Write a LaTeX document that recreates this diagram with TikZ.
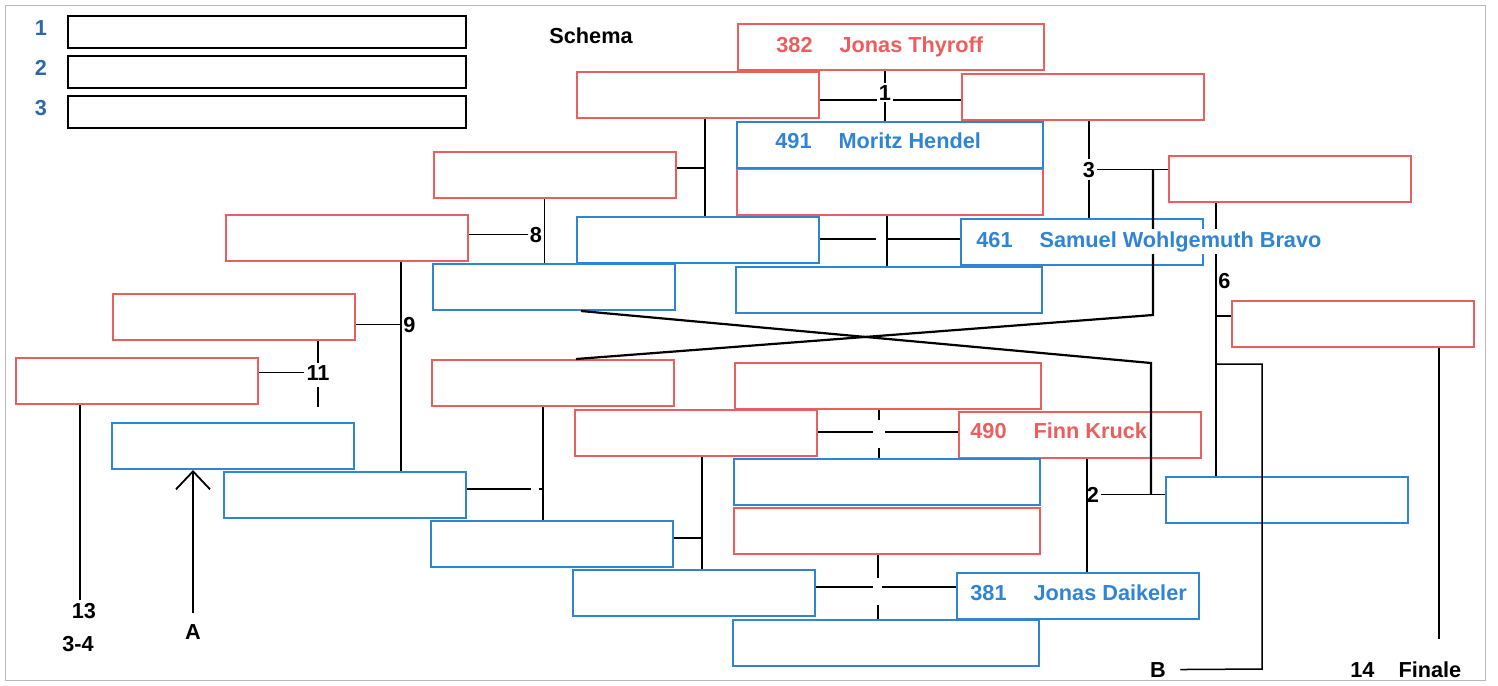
\documentclass[tikz,border=0pt]{standalone}
\usepackage{fontspec}
\setmainfont{Liberation Sans}
\usetikzlibrary{arrows.meta}
\definecolor{boxred}{RGB}{234,94,94}
\definecolor{boxblue}{RGB}{48,132,212}
\definecolor{numblue}{RGB}{46,104,170}
\tikzset{
    slot/.style={draw=#1, line width=1pt, minimum width=121pt, minimum height=23pt, inner sep=0pt},
    wide/.style={minimum width=153pt},
    player/.style={anchor=base west, fill=white, inner xsep=0.5pt, inner ysep=1pt},
    num/.style={anchor=base, inner sep=1pt},
    link/.style={line width=0.75pt},
    swap/.style={line width=1.1pt},
}

\begin{document}
\begin{tikzpicture}[x=0.5pt, y=-0.5pt, font=\fontsize{10.85}{13}\selectfont\bfseries]
    \useasboundingbox (0,0) rectangle (1498,685);
    \draw[gray!55, line width=0.5pt] (5,5) rectangle (1485,680);
    % ranking
    \foreach \i in {1,2,3} {
        \node[slot=black, minimum width=199pt, minimum height=16pt] (L\i) at (267,{40*\i-8}) {};
        \node[num, text=numblue] (n\i) at (41,{40*\i-5}) {\i};
    }
    \node[num, anchor=base west, inner sep=0pt] (title) at (549,43) {Schema};
    % red
    \node[slot=boxred, wide] (R1) at (891,47) {};
    \node[slot=boxred] (R2) at (698,95) {};
    \node[slot=boxred] (R3) at (1083,97) {};
    \node[slot=boxred, wide] (R4) at (890,192) {};
    \node[slot=boxred] (R5) at (555,175) {};
    \node[slot=boxred] (R6) at (347,238) {};
    \node[slot=boxred] (R7) at (1290,179) {};
    \node[slot=boxred] (R8) at (553,383) {};
    \node[slot=boxred] (R9) at (1353,324) {};
    \node[slot=boxred] (R10) at (234,317) {};
    \node[slot=boxred] (R11) at (137,381) {};
    \node[slot=boxred, wide] (R12) at (888,386) {};
    \node[slot=boxred] (R13) at (696,433) {};
    \node[slot=boxred] (R14) at (1080,435) {};
    \node[slot=boxred, wide] (R15) at (887,531) {};
    % blue
    \node[slot=boxblue, wide] (B1) at (890,145) {};
    \node[slot=boxblue] (B2) at (698,240) {};
    \node[slot=boxblue] (B3) at (1082,242) {};
    \node[slot=boxblue, wide] (B4) at (889,290) {};
    \node[slot=boxblue] (B5) at (554,287) {};
    \node[slot=boxblue] (B6) at (1287,500) {};
    \node[slot=boxblue] (B7) at (233,446) {};
    \node[slot=boxblue] (B8) at (345,495) {};
    \node[slot=boxblue] (B9) at (552,544) {};
    \node[slot=boxblue, wide] (B10) at (887,482) {};
    \node[slot=boxblue] (B11) at (694,593) {};
    \node[slot=boxblue] (B12) at (1078,596) {};
    \node[slot=boxblue, wide] (B13) at (886,643) {};
    % 1
    \node[num] (m1) at (885,100) {1};
    \draw[link] (R2.east |- m1.base) -- (m1.base west);
    \draw[link] (m1.base east) -- (R3.west |- m1.base);
    \draw[link] (R1.south -| m1) -- (m1.north);
    \draw[link] (m1.south) -- (B1.north -| m1);
    % B2 - B3
    \coordinate (c2) at (887,239);
    \draw[link] (B2.east |- c2) -- ([xshift=-5.5pt]c2);
    \draw[link] (c2) -- (B3.west |- c2);
    \draw[link] (R4.south -| c2) -- (B4.north -| c2);
    % 8
    \node[num] (m8) at (536,242) {8};
    \draw[link] (R6.east |- m8.west) -- (m8.west);
    \draw[link] (R5.south -| m8.east) -- (B5.north -| m8.east);
    \coordinate (v5) at ([xshift=3.5pt]R2.south);
    \coordinate (h5) at ([yshift=3.5pt]R5.east);
    \draw[link] (v5) -- (v5 |- B2.north);
    \draw[link] (h5) -- (h5 -| v5);
    % 3
    \node[num] (m3) at (1089,177) {3};
    \draw[link] (R3.south -| m3) -- (m3.north);
    \draw[link] (m3.south) -- (B3.north -| m3);
    \draw[link] (m3.east) -- (R7.west |- m3.east);
    % 2
    \node[num] (m2) at (1093,502) {2};
    \coordinate (v2) at ([xshift=3.5pt]R14.south);
    \draw[link] (v2) -- (v2 |- B12.north);
    \draw[link] (m2.east) -- (B6.west |- m2.east);
    % crossing
    \coordinate (j3) at (m3.east -| 1153,0);
    \coordinate (j2) at (m2.east -| 1151,0);
    \draw[swap] ([xshift=11.5pt]R8.north) -- (1153,315) -- (j3);
    \draw[swap] ([xshift=13.5pt]B5.south) -- (1151,363) -- (j2);
    % 6
    \coordinate (v6) at ([xshift=-37pt]R7.south);
    \draw[link] (v6) -- (v6 |- B6.north);
    \node[num, anchor=base west] (m6) at (v6 |- 0,288) {6};
    \draw[link] (v6 |- 0,316) -- (R9.west |- 0,316);
    % B
    \node[num] (mB) at (1158,677) {B};
    \draw[link] (v6 |- 0,364) -| (1262,669) -- ([xshift=6pt]mB.east);
    % 14
    \node[num, anchor=base west] (mF) at (1348,677) {14\hspace{12pt}Finale};
    \draw[link] ([xshift=43pt]R9.south) -- ++(0,291);
    % 9
    \coordinate (v9) at ([xshift=27pt]R6.south);
    \draw[link] (v9) -- (v9 |- B8.north);
    \node[num, anchor=base west] (m9) at (v9 |- 0,332) {9};
    \draw[link] (R10.east |- m9.west) -- (m9.west);
    % 11
    \node[num] (m11) at (318,380) {11};
    \draw[link] (R11.east |- m11.west) -- (m11.west);
    \draw[link] (R10.south -| m11) -- (m11.north);
    \draw[link] ([yshift=-2.5pt]m11.south) -- ++(0,20);
    % 13
    \node[num] (m13) at (84,618) {13};
    \node[num] (m34) at (78,651) {3-4};
    \coordinate (v13) at ([xshift=-28.5pt]R11.south);
    \draw[link] (v13) -- (v13 |- m13.north);
    % A
    \node[num] (mA) at (193,639) {A};
    \draw[line width=0.9pt, -{Straight Barb[length=9pt, width=17pt]}] ([yshift=4.5pt]mA.north) -- (mA.north |- B7.south);
    % B8 - B9
    \coordinate (v8) at ([xshift=-5pt]R8.south);
    \coordinate (h8) at ([yshift=3pt]B8.east);
    \draw[link] (v8) -- (v8 |- B9.north);
    \draw[link] (h8) -- +(64,0);
    \draw[link] (h8 -| v8) -- +(-4,0);
    \coordinate (v9b) at ([xshift=3pt]R13.south);
    \coordinate (h9) at ([yshift=3pt]B9.east);
    \draw[link] (v9b) -- (v9b |- B11.north);
    \draw[link] (h9) -- (h9 -| v9b);
    % R13 - R14
    \coordinate (c15) at (879,432);
    \draw[link] (R13.east |- c15) -- ([xshift=-3pt]c15);
    \draw[link] ([xshift=3pt]c15) -- (R14.west |- c15);
    \draw[link] (R12.south -| c15) -- ([yshift=6pt]c15);
    \draw[link] ([yshift=-8pt]c15) -- (B10.north -| c15);
    % B11 - B12
    \coordinate (c16) at (878,587);
    \draw[link] (B11.east |- c16) -- ([xshift=-2.5pt]c16);
    \draw[link] ([xshift=2pt]c16) -- (B12.west |- c16);
    \draw[link] (R15.south -| c16) -- ([yshift=4.5pt]c16);
    \draw[link] ([yshift=-9pt]c16) -- (B13.north -| c16);
    % players
    \node[player, text=boxred] (p382) at (775,52) {382\hspace{13.5pt}Jonas Thyroff};
    \node[player, text=boxblue] (p491) at (774,148) {491\hspace{13.5pt}Moritz Hendel};
    \node[player, text=boxblue] (p461) at (975,247) {461\hspace{13.5pt}Samuel Wohlgemuth Bravo};
    \node[player, text=boxred] (p490) at (969,438) {490\hspace{13.5pt}Finn Kruck};
    \node[player, text=boxblue] (p381) at (969,600) {381\hspace{13.5pt}Jonas Daikeler};
\end{tikzpicture}
\end{document}
